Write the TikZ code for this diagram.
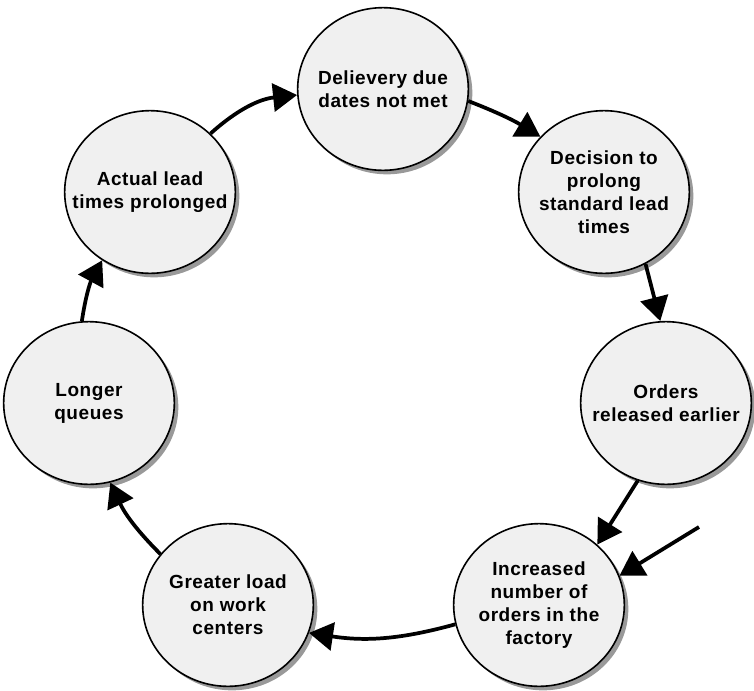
\documentclass[tikz,border=0pt]{standalone}
\usepackage{fontspec}
\setmainfont{Liberation Sans}[LetterSpace=3]
\usepackage{xcolor}
\usepackage{tikz}
\usetikzlibrary{arrows.meta,shapes.geometric,shadows}
\definecolor{bubblegray}{RGB}{240,240,240}

\begin{document}
\begin{tikzpicture}[x=0.75pt,y=-0.75pt,
    bubble/.style={ellipse,draw,line width=1.2pt,fill=bubblegray,
      minimum width=128pt,minimum height=122pt,inner sep=-18pt,align=center,
      font=\fontsize{14.25pt}{17.25pt}\selectfont\bfseries,
      drop shadow={shadow xshift=3pt,shadow yshift=-3pt,fill=black!40,opacity=1}},
    link/.style={line width=2.8pt,-{Triangle[length=18pt,width=21pt]}}]
  \useasboundingbox (0,0) rectangle (754,690);
  \node[bubble] (late) at (383,89) {Delievery due\\dates not met};
  \node[bubble] (decide) at (604,192) {Decision to\\prolong\\standard lead\\times};
  \node[bubble] (release) at (666,403) {Orders\\released earlier};
  \node[bubble] (orders) at (539,605) {Increased\\number of\\orders in the\\factory};
  \node[bubble] (load) at (228,605) {Greater load\\on work\\centers};
  \node[bubble] (queues) at (89,403) {Longer\\queues};
  \node[bubble] (actual) at (150,192) {Actual lead\\times prolonged};
  \coordinate (outside) at (699,527);
  \draw[link] (actual.44) to[bend left=18] (late.184);
  \draw[link] (late.-8) to[bend left=5] (decide.139);
  \draw[link] (decide.-60) -- (release.94);
  \draw[link] (release.-110) -- (orders.46);
  \draw[link] (outside) -- (orders.20);
  \draw[link] (orders.193) to[bend left=12] (load.-19);
  \draw[link] (load.143) to[bend left=10] (queues.-75);
  \draw[link] (queues.95) to[bend left=10] (actual.-125);
\end{tikzpicture}
\end{document}
